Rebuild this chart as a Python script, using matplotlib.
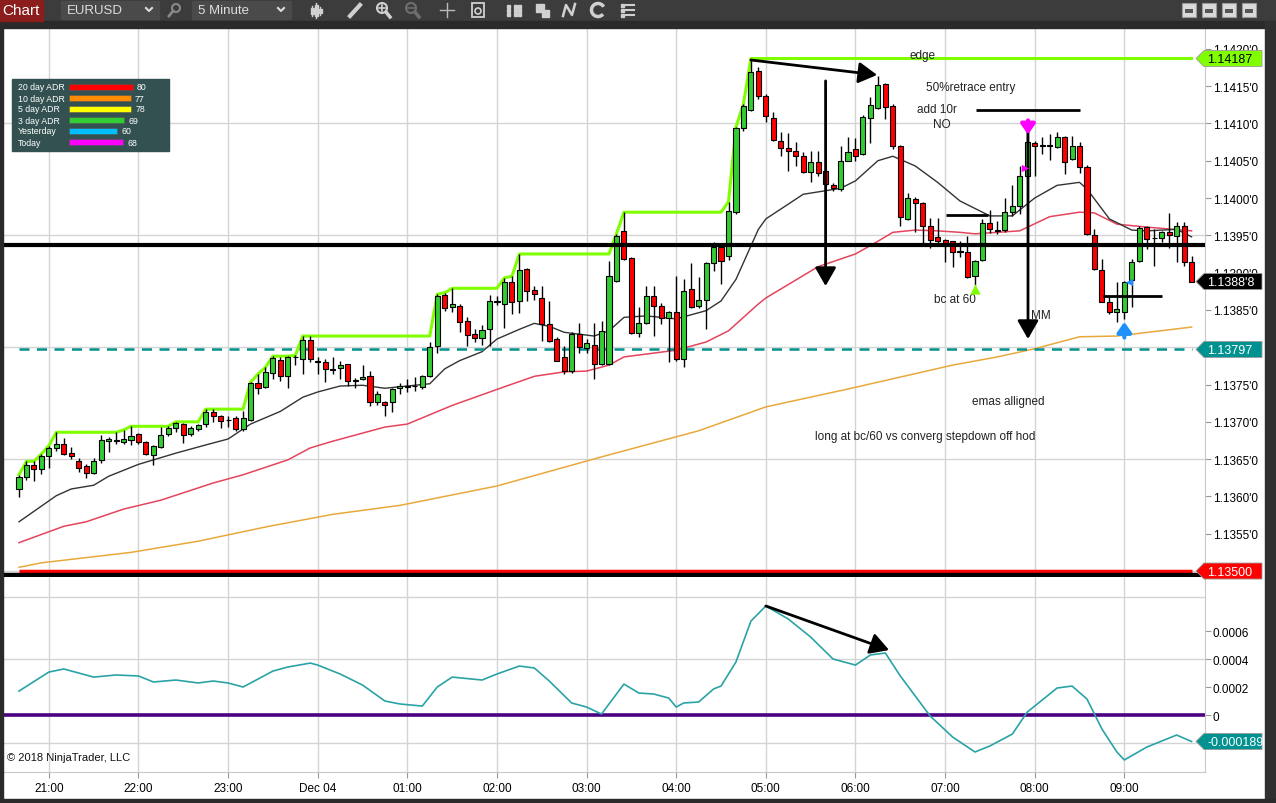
import numpy as np
import pandas as pd
import matplotlib
matplotlib.use('Agg')
import matplotlib.pyplot as plt
from matplotlib.patches import Rectangle, Polygon, Circle, Arc

plt.rcParams['font.family'] = ['Liberation Sans', 'DejaVu Sans']

# 5 minute EURUSD bars, 20:40 -> 09:45
times = pd.date_range('2018-12-03 20:40', periods=158, freq='5min')

opens = [
    1.13610, 1.13626, 1.13642, 1.13637, 1.13654, 1.13665, 1.13670, 1.13658, 1.13647, 1.13641,
    1.13631, 1.13649, 1.13674, 1.13674, 1.13673, 1.13676, 1.13684, 1.13673, 1.13656, 1.13666,
    1.13684, 1.13692, 1.13697, 1.13684, 1.13690, 1.13697, 1.13713, 1.13708, 1.13702, 1.13705,
    1.13690, 1.13702, 1.13752, 1.13747, 1.13765, 1.13783, 1.13761, 1.13787, 1.13784, 1.13810,
    1.13782, 1.13780, 1.13771, 1.13772, 1.13777, 1.13755, 1.13757, 1.13761, 1.13727, 1.13727,
    1.13727, 1.13745, 1.13747, 1.13748, 1.13747, 1.13761, 1.13802, 1.13870, 1.13854, 1.13855,
    1.13835, 1.13818, 1.13812, 1.13824, 1.13861, 1.13858, 1.13887, 1.13862, 1.13905, 1.13877,
    1.13866, 1.13831, 1.13811, 1.13787, 1.13768, 1.13818, 1.13799, 1.13803, 1.13777, 1.13777,
    1.13889, 1.13956, 1.13920, 1.13819, 1.13832, 1.13869, 1.13855, 1.13839, 1.13847, 1.13784,
    1.13878, 1.13855, 1.13863, 1.13913, 1.13934, 1.13922, 1.13981, 1.14094, 1.14118, 1.14170,
    1.14137, 1.14107, 1.14076, 1.14067, 1.14063, 1.14056, 1.14035, 1.14048, 1.14036, 1.14017,
    1.14012, 1.14050, 1.14066, 1.14059, 1.14107, 1.14121, 1.14153, 1.14123, 1.14070, 1.13972,
    1.13999, 1.13993, 1.13962, 1.13948, 1.13944, 1.13942, 1.13928, 1.13928, 1.13895, 1.13917,
    1.13967, 1.13957, 1.13957, 1.13981, 1.13989, 1.14029, 1.14074, 1.14070, 1.14070, 1.14068,
    1.14082, 1.14052, 1.14070, 1.14042, 1.13950, 1.13903, 1.13861, 1.13847, 1.13847, 1.13890,
    1.13916, 1.13961, 1.13946, 1.13946, 1.13954, 1.13949, 1.13962, 1.13914]
highs = [
    1.13629, 1.13647, 1.13647, 1.13657, 1.13668, 1.13686, 1.13678, 1.13666, 1.13651, 1.13643,
    1.13651, 1.13682, 1.13680, 1.13686, 1.13689, 1.13694, 1.13685, 1.13674, 1.13669, 1.13693,
    1.13694, 1.13700, 1.13698, 1.13694, 1.13697, 1.13717, 1.13717, 1.13709, 1.13708, 1.13708,
    1.13714, 1.13753, 1.13764, 1.13773, 1.13788, 1.13787, 1.13788, 1.13789, 1.13815, 1.13815,
    1.13787, 1.13784, 1.13787, 1.13782, 1.13778, 1.13759, 1.13776, 1.13768, 1.13741, 1.13728,
    1.13745, 1.13752, 1.13757, 1.13760, 1.13763, 1.13807, 1.13871, 1.13873, 1.13879, 1.13858,
    1.13840, 1.13824, 1.13830, 1.13870, 1.13869, 1.13893, 1.13895, 1.13925, 1.13906, 1.13882,
    1.13882, 1.13862, 1.13814, 1.13802, 1.13820, 1.13832, 1.13811, 1.13832, 1.13835, 1.13916,
    1.13952, 1.13981, 1.13921, 1.13854, 1.13882, 1.13882, 1.13859, 1.13848, 1.13895, 1.13891,
    1.13913, 1.13894, 1.13914, 1.13941, 1.13935, 1.13995, 1.14095, 1.14126, 1.14187, 1.14176,
    1.14139, 1.14115, 1.14089, 1.14087, 1.14075, 1.14062, 1.14063, 1.14063, 1.14037, 1.14020,
    1.14070, 1.14082, 1.14080, 1.14111, 1.14135, 1.14164, 1.14154, 1.14126, 1.14071, 1.14007,
    1.14001, 1.13995, 1.13973, 1.13973, 1.13945, 1.13943, 1.13942, 1.13949, 1.13917, 1.13972,
    1.13984, 1.13969, 1.14000, 1.14017, 1.14043, 1.14089, 1.14076, 1.14082, 1.14086, 1.14089,
    1.14083, 1.14083, 1.14075, 1.14044, 1.13958, 1.13918, 1.13869, 1.13887, 1.13889, 1.13918,
    1.13962, 1.13962, 1.13958, 1.13956, 1.13980, 1.13968, 1.13968, 1.13922]
lows = [
    1.13599, 1.13622, 1.13621, 1.13630, 1.13638, 1.13661, 1.13656, 1.13650, 1.13633, 1.13625,
    1.13630, 1.13645, 1.13660, 1.13670, 1.13670, 1.13669, 1.13670, 1.13655, 1.13642, 1.13665,
    1.13681, 1.13686, 1.13672, 1.13681, 1.13688, 1.13693, 1.13700, 1.13692, 1.13693, 1.13688,
    1.13688, 1.13701, 1.13737, 1.13745, 1.13757, 1.13755, 1.13745, 1.13776, 1.13764, 1.13780,
    1.13764, 1.13753, 1.13764, 1.13757, 1.13748, 1.13745, 1.13756, 1.13721, 1.13723, 1.13708,
    1.13713, 1.13737, 1.13740, 1.13741, 1.13744, 1.13760, 1.13792, 1.13849, 1.13847, 1.13820,
    1.13802, 1.13807, 1.13803, 1.13802, 1.13857, 1.13826, 1.13845, 1.13846, 1.13862, 1.13863,
    1.13808, 1.13807, 1.13781, 1.13764, 1.13765, 1.13792, 1.13792, 1.13757, 1.13776, 1.13776,
    1.13887, 1.13917, 1.13818, 1.13814, 1.13831, 1.13815, 1.13831, 1.13780, 1.13781, 1.13773,
    1.13853, 1.13853, 1.13824, 1.13902, 1.13885, 1.13917, 1.13979, 1.14090, 1.14117, 1.14133,
    1.14102, 1.14077, 1.14056, 1.14036, 1.14043, 1.14034, 1.14021, 1.14029, 1.14016, 1.14009,
    1.14009, 1.14049, 1.14049, 1.14058, 1.14074, 1.14119, 1.14106, 1.14066, 1.13962, 1.13971,
    1.13954, 1.13936, 1.13933, 1.13940, 1.13914, 1.13908, 1.13921, 1.13893, 1.13883, 1.13916,
    1.13953, 1.13952, 1.13954, 1.13976, 1.13979, 1.14028, 1.14029, 1.14059, 1.14051, 1.14067,
    1.14032, 1.14051, 1.14034, 1.13951, 1.13904, 1.13860, 1.13845, 1.13834, 1.13838, 1.13854,
    1.13914, 1.13932, 1.13909, 1.13941, 1.13933, 1.13914, 1.13909, 1.13888]
closes = [
    1.13626, 1.13642, 1.13637, 1.13654, 1.13665, 1.13670, 1.13657, 1.13654, 1.13638, 1.13631,
    1.13647, 1.13676, 1.13677, 1.13675, 1.13677, 1.13681, 1.13673, 1.13657, 1.13668, 1.13682,
    1.13692, 1.13698, 1.13682, 1.13692, 1.13696, 1.13713, 1.13708, 1.13701, 1.13702, 1.13690,
    1.13705, 1.13752, 1.13745, 1.13767, 1.13786, 1.13761, 1.13787, 1.13787, 1.13810, 1.13784,
    1.13780, 1.13771, 1.13769, 1.13776, 1.13755, 1.13756, 1.13760, 1.13727, 1.13737, 1.13723,
    1.13744, 1.13748, 1.13747, 1.13748, 1.13761, 1.13800, 1.13869, 1.13853, 1.13858, 1.13834,
    1.13816, 1.13812, 1.13823, 1.13862, 1.13861, 1.13887, 1.13861, 1.13903, 1.13875, 1.13871,
    1.13831, 1.13808, 1.13782, 1.13768, 1.13818, 1.13800, 1.13806, 1.13777, 1.13822, 1.13895,
    1.13949, 1.13918, 1.13819, 1.13832, 1.13869, 1.13855, 1.13839, 1.13847, 1.13784, 1.13875,
    1.13854, 1.13863, 1.13913, 1.13934, 1.13916, 1.13983, 1.14094, 1.14123, 1.14169, 1.14137,
    1.14110, 1.14078, 1.14067, 1.14063, 1.14056, 1.14035, 1.14048, 1.14034, 1.14019, 1.14013,
    1.14050, 1.14062, 1.14056, 1.14109, 1.14125, 1.14151, 1.14122, 1.14070, 1.13975, 1.14000,
    1.13993, 1.13962, 1.13944, 1.13942, 1.13940, 1.13928, 1.13928, 1.13894, 1.13916, 1.13967,
    1.13958, 1.13956, 1.13981, 1.13989, 1.14029, 1.14075, 1.14070, 1.14070, 1.14071, 1.14082,
    1.14048, 1.14070, 1.14042, 1.13952, 1.13905, 1.13861, 1.13847, 1.13851, 1.13887, 1.13914,
    1.13960, 1.13945, 1.13946, 1.13954, 1.13950, 1.13962, 1.13914, 1.13888]

# moving averages (bar index, price)
ema_fast_idx = [0, 5, 7, 10, 12, 16, 18, 21, 25, 28, 31, 35, 38, 40, 43, 46, 49, 51, 55, 57,
                59, 62, 64, 67, 69, 71, 73, 77, 79, 81, 84, 88, 92, 94, 96, 99, 100, 105, 110, 112,
                115, 117, 120, 123, 126, 130, 133, 136, 139, 142, 143, 146, 149, 151, 155, 157]
ema_fast = [1.13566, 1.13601, 1.13610, 1.13615, 1.13627, 1.13643, 1.13649, 1.13658, 1.13669, 1.13677,
            1.13697, 1.13714, 1.13733, 1.13740, 1.13748, 1.13749, 1.13745, 1.13747, 1.13751, 1.13771,
            1.13782, 1.13794, 1.13811, 1.13824, 1.13832, 1.13828, 1.13820, 1.13815, 1.13822, 1.13840,
            1.13842, 1.13838, 1.13849, 1.13862, 1.13891, 1.13958, 1.13972, 1.14005, 1.14013, 1.14023,
            1.14050, 1.14056, 1.14043, 1.14021, 1.13996, 1.13976, 1.13976, 1.14000, 1.14017, 1.14021,
            1.14012, 1.13972, 1.13957, 1.13956, 1.13958, 1.13948]
ema_mid_idx = [0, 6, 9, 14, 19, 26, 30, 36, 39, 42, 49, 52, 58, 65, 69, 73, 76, 79, 81, 88,
               92, 95, 99, 100, 107, 112, 115, 117, 120, 123, 126, 128, 134, 138, 142, 144, 147, 151, 157]
ema_mid = [1.13538, 1.13560, 1.13566, 1.13583, 1.13595, 1.13618, 1.13629, 1.13649, 1.13665, 1.13674,
           1.13693, 1.13697, 1.13722, 1.13747, 1.13761, 1.13767, 1.13768, 1.13776, 1.13787, 1.13796,
           1.13807, 1.13822, 1.13858, 1.13866, 1.13908, 1.13925, 1.13942, 1.13954, 1.13957, 1.13956,
           1.13954, 1.13952, 1.13956, 1.13975, 1.13981, 1.13980, 1.13965, 1.13961, 1.13956]
ema_slow_idx = [0, 3, 15, 24, 33, 42, 51, 64, 78, 91, 100, 111, 125, 131, 136, 142, 147, 157]
ema_slow = [1.13505, 1.13511, 1.13525, 1.13540, 1.13559, 1.13576, 1.13588, 1.13614, 1.13653, 1.13688,
            1.13720, 1.13744, 1.13776, 1.13787, 1.13798, 1.13814, 1.13815, 1.13827]

# lower panel oscillator
osc_idx = [0, 4, 6, 10, 13, 16, 18, 21, 24, 26, 28, 30, 34, 36, 39, 40, 43, 46, 49, 51,
           54, 56, 58, 62, 64, 67, 69, 71, 74, 76, 78, 79, 81, 83, 85, 87, 88, 89, 91, 93,
           94, 96, 98, 100, 103, 106, 109, 112, 114, 116, 118, 120, 122, 125, 128, 130, 133, 135, 137, 139,
           141, 143, 145, 147, 148, 151, 155, 157]
osc = [0.000171, 0.000307, 0.000329, 0.000271, 0.000286, 0.000279, 0.000236, 0.000250, 0.000229, 0.000243,
       0.000229, 0.000200, 0.000314, 0.000343, 0.000371, 0.000357, 0.000293, 0.000214, 0.000100, 0.000079,
       0.000064, 0.000200, 0.000271, 0.000250, 0.000293, 0.000350, 0.000336, 0.000243, 0.000086, 0.000057,
       0.000007, 0.000079, 0.000221, 0.000157, 0.000150, 0.000121, 0.000057, 0.000086, 0.000093, 0.000186,
       0.000207, 0.000379, 0.000671, 0.000779, 0.000686, 0.000557, 0.000400, 0.000357, 0.000429, 0.000443,
       0.000279, 0.000136, -0.000007, -0.000157, -0.000264, -0.000221, -0.000136, 0.000021, 0.000107, 0.000193,
       0.000207, 0.000114, -0.000100, -0.000264, -0.000321, -0.000229, -0.000143, -0.000189]

# levels
level_mid = 1.13937
level_low = 1.13500
level_bottom = 1.13495
level_dash = 1.13797

adr_labels = ['20 day ADR', '10 day ADR', '5 day ADR', '3 day ADR', 'Yesterday', 'Today']
adr_values = [80, 77, 78, 69, 60, 68]
adr_colors = ['#ff0000', '#ff8c00', '#ffff00', '#32cd32', '#00bfff', '#ff00ff']

W, H = 1276, 804
def fx(x): return x / W
def fy(y): return 1 - y / H

o = np.array(opens); h = np.array(highs); l = np.array(lows); c = np.array(closes)
x = np.arange(len(o))

fig = plt.figure(figsize=(W / 100, H / 100), dpi=100)
fig.patch.set_facecolor('white')
ax = fig.add_axes([fx(3), fy(578), (1205 - 3) / W, (578 - 29) / H])
ax2 = fig.add_axes([fx(3), fy(773), (1205 - 3) / W, (773 - 578) / H], sharex=ax)

xmin, xmax = -2.14, 158.8
ax.set_xlim(xmin, xmax)
ax.set_ylim(1.13492, 1.142279)
ax2.set_ylim(-0.000407, 0.000986)

# grid
hour_pos = [i for i, t in enumerate(times) if t.minute == 0]
hour_lab = ['Dec 04' if times[i].hour == 0 else times[i].strftime('%H:%M') for i in hour_pos]
grid_c = '#d4d4d4'
for a in (ax, ax2):
    for p in hour_pos:
        a.axvline(p, color=grid_c, lw=1, zorder=0)
for v in [1.1350, 1.1365, 1.1380, 1.1395, 1.1410]:
    ax.axhline(v, color=grid_c, lw=1, zorder=0)
for v in [0.00084, 0.0004, -0.0002]:
    ax2.axhline(v, color=grid_c, lw=1, zorder=0)

# moving averages
ax.plot(ema_slow_idx, ema_slow, color='#e8a93c', lw=1.1, zorder=2)
ax.plot(ema_mid_idx, ema_mid, color='#e5445c', lw=1.1, zorder=2)
ax.plot(ema_fast_idx, ema_fast, color='#333333', lw=1.0, zorder=2)

# high of day
hod = np.maximum.accumulate(h)
ax.plot(x, hod, color='#80ff00', lw=2.2, zorder=3)

# level lines
ax.hlines(level_low, x[0], x[-1], color='#ff0000', lw=2.5, zorder=3)
ax.hlines(level_dash, x[0], x[-1], color='#00918f', lw=1.8, linestyles=(0, (4, 3)), zorder=3)

# candles
up = c >= o
body_col = np.where(up, '#33cc33', '#ff0000')
ax.vlines(x, l, h, color='black', lw=1, zorder=4)
ax.bar(x, np.maximum(np.abs(c - o), 0.000004), bottom=np.minimum(o, c), width=0.68,
       color=body_col, edgecolor='black', linewidth=0.8, zorder=5)

ax.axhline(level_mid, color='black', lw=3, zorder=6)
ax.axhline(level_bottom, color='black', lw=3.2, zorder=6)

# drawings
def arrow(a, start, end, lw=2):
    a.annotate('', xy=end, xytext=start, zorder=8,
               arrowprops=dict(arrowstyle='-|>,head_length=0.7,head_width=0.4', color='black',
                               lw=lw, shrinkA=0, shrinkB=0, mutation_scale=16))

arrow(ax, (98, 1.14185), (114.9, 1.14165))
arrow(ax, (108, 1.14157), (108, 1.13882))
arrow(ax, (135.1, 1.14099), (135.1, 1.13811))
ax.hlines([1.14118, 1.13977, 1.13869], [128.1, 124.1, 145.1], [142, 129.8, 153], color='black', lw=2, zorder=8)

notes = [
    ('edge', 121.0, 1.14192),
    ('50%retrace entry', 127.4, 1.14149),
    ('add 10r', 122.9, 1.14119),
    ('NO', 123.6, 1.14099),
    ('bc at 60', 125.3, 1.13865),
    ('MM', 136.8, 1.13843),
    ('emas alligned', 132.4, 1.13728),
    ('long at bc/60 vs converg stepdown off hod', 121.3, 1.13681),
]
for txt, xi, yi in notes:
    ax.text(xi, yi, txt, ha='center', va='center', fontsize=8.5, color='#222222', zorder=9)

# signal markers
ax.annotate('', xy=(135.1, 1.14085), xytext=(135.1, 1.14104), zorder=9,
            arrowprops=dict(arrowstyle='-|>,head_length=0.5,head_width=0.35', color='#ff00ff',
                            lw=3, shrinkA=0, shrinkB=0, mutation_scale=12))
ax.annotate('', xy=(148, 1.13834), xytext=(148, 1.13813), zorder=9,
            arrowprops=dict(arrowstyle='-|>,head_length=0.5,head_width=0.35', color='#1e90ff',
                            lw=3, shrinkA=0, shrinkB=0, mutation_scale=12))
ax.scatter([134.7], [1.14040], marker='>', s=28, color='#ff00ff', zorder=9, linewidths=0)
ax.scatter([128], [1.13878], marker='^', s=55, color='#80ff00', zorder=9, linewidths=0)
ax.scatter([148.6], [1.13887], marker='<', s=28, color='#1e90ff', zorder=9, linewidths=0)

# lower panel
ax2.axhline(0, color='#4b0082', lw=2.6, zorder=2)
ax2.plot(osc_idx, osc, color='#2aa3a6', lw=1.2, zorder=3)
arrow(ax2, (100, 0.000779), (116.5, 0.000464))

# axes styling
for a in (ax, ax2):
    for s in ('top', 'left'):
        a.spines[s].set_visible(False)
    a.spines['right'].set_color('#c8c8c8')
    a.spines['bottom'].set_color('#c8c8c8')
    a.yaxis.tick_right()
    a.tick_params(axis='y', direction='out', length=4, color='#999999', labelsize=8.5,
                  pad=1.5, labelcolor='black')
ax.spines['bottom'].set_visible(False)
# tick labels that sit under a price tag are left out
price_ticks = np.round(np.arange(1.1355, 1.14201, 0.0005), 4)
price_ticks = [v for v in price_ticks if abs(v - level_dash) > 0.0001]
ax.set_yticks(price_ticks)
ax.set_yticklabels([f"{v:.4f}'0" for v in price_ticks])
osc_ticks = [0, 0.0002, 0.0004, 0.0006]
ax2.set_yticks(osc_ticks)
ax2.set_yticklabels(['0' if v == 0 else f'{v:.4f}' for v in osc_ticks])
ax.tick_params(axis='x', bottom=False, labelbottom=False)
ax2.set_xticks(hour_pos)
ax2.set_xticklabels(hour_lab)
ax2.tick_params(axis='x', direction='out', length=4, color='#999999', labelsize=8.5, pad=3)

# chrome overlay in pixel coords
ov = fig.add_axes([0, 0, 1, 1])
ov.set_xlim(0, W)
ov.set_ylim(H, 0)
ov.axis('off')
ov.patch.set_alpha(0)

ov.add_patch(Rectangle((0, 0), W, 22, color='#3c3c3c'))
ov.add_patch(Rectangle((0, 22), W, 7, color='#2a2a2a'))
ov.add_patch(Rectangle((0, 22), 3, H, color='#2a2a2a'))
ov.add_patch(Rectangle((1265, 22), 11, H, color='#303030'))
ov.add_patch(Rectangle((0, 800), W, 4, color='#2a2a2a'))
ov.add_patch(Rectangle((0, 0), 43, 22, color='#8b1d1d'))
ov.text(21, 11, 'Chart', color='white', fontsize=11, ha='center', va='center')
for bx, bw, label, cx in [(61, 98, 'EURUSD', 149), (192, 99, '5 Minute', 281)]:
    ov.add_patch(Rectangle((bx, 2), bw, 18, color='#4a4a4a'))
    ov.text(bx + 6, 11.5, label, color='#dddddd', fontsize=9.5, ha='left', va='center')
    ov.plot([cx - 3, cx, cx + 3], [9, 12, 9], color='#dddddd', lw=1.5)
ic = '#d0d0d0'
ov.add_patch(Circle((176, 9), 4, fill=False, ec='#888888', lw=1.5))
ov.plot([173, 169], [12, 17], color='#888888', lw=2)
for dx, (y0, y1) in zip([-4, 0, 4], [(7, 17), (4, 19), (8, 16)]):
    ov.plot([316 + dx] * 2, [y0, y1], color=ic, lw=1)
    ov.add_patch(Rectangle((316 + dx - 1.5, y0 + 2), 3, y1 - y0 - 4, color=ic))
ov.plot([350, 360], [17, 6], color=ic, lw=3)
ov.add_patch(Circle((382, 9), 5, fill=False, ec=ic, lw=1.5))
ov.plot([379, 385], [9, 9], color=ic, lw=1.2)
ov.plot([382, 382], [6, 12], color=ic, lw=1.2)
ov.plot([386, 390], [13, 18], color=ic, lw=2.5)
ov.add_patch(Circle((411, 9), 5, fill=False, ec='#6e6e6e', lw=1.5))
ov.plot([408, 414], [9, 9], color='#6e6e6e', lw=1.2)
ov.plot([415, 419], [13, 18], color='#6e6e6e', lw=2.5)
ov.plot([440, 454], [11, 11], color='#bbbbbb', lw=1)
ov.plot([447, 447], [4, 18], color='#bbbbbb', lw=1)
ov.add_patch(Rectangle((472, 4), 12, 14, fill=False, ec=ic, lw=1.3))
ov.add_patch(Circle((478, 12), 3, fill=False, ec=ic, lw=1.2))
for gx in (507, 514, 518):
    for gy in (6, 10, 14):
        ov.add_patch(Rectangle((gx, gy), 3, 3, color=ic))
ov.add_patch(Rectangle((536, 5), 8, 8, color=ic))
ov.add_patch(Rectangle((542, 11), 7, 7, color=ic))
ov.plot([563, 566, 572, 575], [17, 6, 16, 5], color=ic, lw=1.8)
ov.add_patch(Arc((598, 11), 13, 13, theta1=40, theta2=330, ec=ic, lw=2.5))
for ly in (6, 11, 16):
    ov.add_patch(Rectangle((621, ly - 1), 3, 3, color=ic))
    ov.plot([626, 634], [ly, ly], color=ic, lw=1.5)
for bx in (1182, 1202, 1222, 1242):
    ov.add_patch(Rectangle((bx, 4), 14, 14, fc='#dadada', ec='#9a9a9a', lw=0.8))
    ov.add_patch(Rectangle((bx + 3, 10), 8, 4, fc='#555555', ec='none'))

ov.text(7, 758, '\u00a9 2018 NinjaTrader, LLC', fontsize=8, color='#111111', ha='left', va='center')

# ADR box
ov.add_patch(Rectangle((12, 80), 157, 72, color='#325150'))
rows = 88 + 11 * np.arange(len(adr_values))
ov.barh(rows, np.array(adr_values) * 0.8, left=69, height=5.5, color=adr_colors,
        edgecolor='#555555', linewidth=0.4)
for r, lab, v in zip(rows, adr_labels, adr_values):
    ov.text(18, r, lab, color='white', fontsize=6.3, ha='left', va='center')
    ov.text(69 + v * 0.8 + 4, r, str(v), color='white', fontsize=6.3, ha='left', va='center')

# price tags on the right axis
def tag(a, value, text, face, tcol):
    yp = H - a.transData.transform((0, value))[1]
    pts = [(1196, yp), (1204, yp - 8), (1262, yp - 8), (1262, yp + 8), (1204, yp + 8)]
    ov.add_patch(Polygon(pts, closed=True, fc=face, ec='#999999', lw=0.6, zorder=20))
    ov.text(1207, yp + 0.5, text, color=tcol, fontsize=9, ha='left', va='center', zorder=21)

tag(ax, hod[-1], f'{hod[-1]:.5f}', '#80ff00', 'black')
n_last = int(round(c[-1] * 1e5))
tag(ax, c[-1], f"{n_last // 10 / 1e4:.4f}'{n_last % 10}", 'black', 'white')
tag(ax, level_dash, f'{level_dash:.5f}', '#009290', 'white')
tag(ax, level_low, f'{level_low:.5f}', '#ff0000', 'white')
tag(ax2, osc[-1], f'{osc[-1]:.6f}', '#009290', 'white')

fig.savefig('out.png', dpi=100)
